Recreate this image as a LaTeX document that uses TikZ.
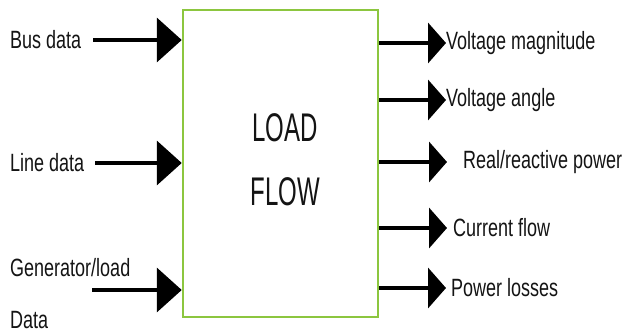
\documentclass[tikz,border=0pt]{standalone}
\usepackage{fontspec}
\usetikzlibrary{arrows.meta}
\newfontfamily\lblfont[FakeStretch=0.72]{Liberation Sans}
\newfontfamily\titlefont[FakeStretch=0.6]{Liberation Sans}
\definecolor{boxgreen}{RGB}{140,198,63}
\definecolor{ink}{RGB}{20,20,20}
\tikzset{
  lbl/.style={anchor=west, inner sep=0pt, text=ink, font=\lblfont\fontsize{25}{28}\selectfont},
  inarrow/.style={line width=4pt, draw=black, -{Triangle[length=25pt,width=44pt]}},
  outarrow/.style={line width=4pt, draw=black, -{Triangle[length=18pt,width=40pt]}},
  blockbox/.style={draw=boxgreen, line width=2.5pt, fill=white, minimum width=195pt, minimum height=307pt, inner sep=0pt}
}
\begin{document}
\begin{tikzpicture}[x=1pt, y=-1pt]
  \useasboundingbox (0,0) rectangle (624,335);
  % central block
  \node[blockbox] (box) at (280.5,163.5) {};
  \node[text=ink, font=\titlefont\fontsize{40}{44}\selectfont] (load) at (285,128) {LOAD};
  \node[text=ink, font=\titlefont\fontsize{40}{44}\selectfont] (flow) at (285,192) {FLOW};

  % inputs
  \node[lbl] (bus) at (10,40) {Bus data};
  \node[lbl] (line) at (10,163) {Line data};
  \node[lbl] (gen) at (10,268) {Generator/load};
  \node[lbl] (data) at (10,320) {Data};
  \coordinate (busin) at (93,40);
  \coordinate (linein) at (95,163);
  \coordinate (genin) at (92,290);
  \draw[inarrow] (busin) -- (box.west |- busin);
  \draw[inarrow] (linein) -- (box.west |- linein);
  \draw[inarrow] (genin) -- (box.west |- genin);

  % outputs
  \node[lbl] (vm) at (446,43) {Voltage magnitude};
  \node[lbl] (va) at (446,100) {Voltage angle};
  \node[lbl] (rp) at (463,162) {Real/reactive power};
  \node[lbl] (cf) at (453,228) {Current flow};
  \node[lbl] (pl) at (451,288) {Power losses};
  \draw[outarrow] (box.east |- vm.west) -- (vm.west);
  \draw[outarrow] (box.east |- va.west) -- (va.west);
  \draw[outarrow] (box.east |- rp.west) -- ([xshift=-16pt]rp.west);
  \draw[outarrow] (box.east |- cf.west) -- ([xshift=-6pt]cf.west);
  \draw[outarrow] (box.east |- pl.west) -- ([xshift=-5pt]pl.west);
\end{tikzpicture}
\end{document}
